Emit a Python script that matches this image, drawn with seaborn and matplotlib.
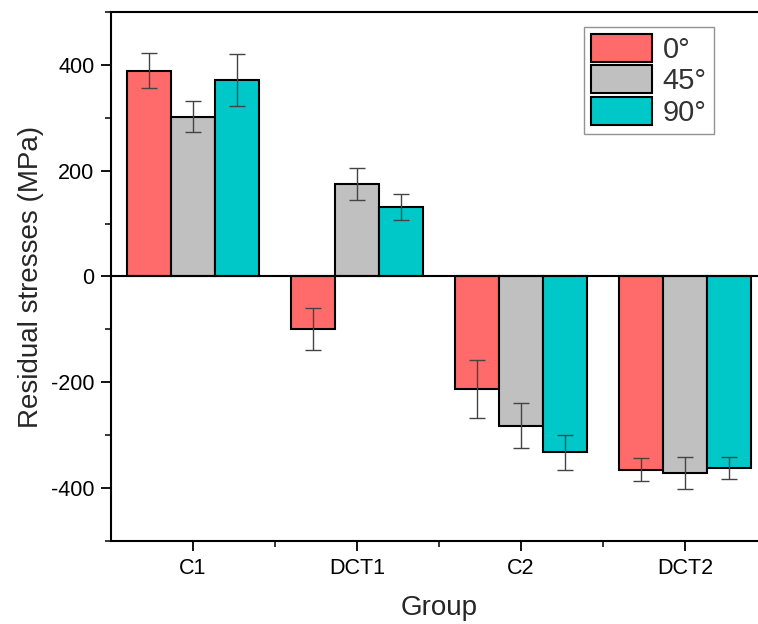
import numpy as np
import pandas as pd
import matplotlib
matplotlib.use("Agg")
import matplotlib.pyplot as plt
import seaborn as sns
from matplotlib.ticker import MultipleLocator

groups = ["C1", "DCT1", "C2", "DCT2"]
angles = ["0°", "45°", "90°"]

# residual stress (MPa) per angle
stress_0 = [389, -99, -212, -365]
stress_45 = [302, 175, -282, -372]
stress_90 = [372, 131, -332, -362]

err_0 = [33, 40, 55, 22]
err_45 = [29, 30, 42, 30]
err_90 = [49, 24, 33, 21]

colors = ["#FF6B6B", "#C0C0C0", "#00C8C8"]

rows = []
for ang, vals, errs in zip(angles, [stress_0, stress_45, stress_90], [err_0, err_45, err_90]):
    for g, v, e in zip(groups, vals, errs):
        rows.append({"Group": g, "Angle": ang, "Stress": v, "Err": e})
df = pd.DataFrame(rows)

sns.set_style("ticks")
plt.rcParams['font.family'] = ['Liberation Sans', 'DejaVu Sans']
plt.rcParams['axes.unicode_minus'] = False

fig = plt.figure(figsize=(7.58, 6.24), dpi=100)
ax = fig.add_axes([0.1464, 0.133, 0.8654, 0.8478])

sns.barplot(data=df, x="Group", y="Stress", hue="Angle", order=groups,
            hue_order=angles, palette=colors, errorbar=None, width=0.8,
            edgecolor="black", linewidth=1.5, saturation=1, ax=ax)

# error bars from the bar positions seaborn laid out
for cont, ang in zip(ax.containers, angles):
    sub = df[df["Angle"] == ang].set_index("Group").loc[groups]
    xs = [p.get_x() + p.get_width() / 2 for p in cont]
    ax.errorbar(xs, sub["Stress"].values, yerr=sub["Err"].values, fmt="none",
                ecolor="#444444", elinewidth=1, capsize=6, capthick=1, zorder=5)

ax.axhline(0, color="black", lw=1.5, zorder=4)

ax.set_ylim(-500, 500)
ax.set_xlim(-0.5, 3.5)
ax.yaxis.set_major_locator(MultipleLocator(200))
ax.yaxis.set_minor_locator(MultipleLocator(100))
ax.set_xticks([0.5, 1.5, 2.5], minor=True)
ax.tick_params(axis="both", which="major", direction="out", length=7, width=1.3,
               labelsize=15.5, colors="black", pad=5)
ax.tick_params(axis="both", which="minor", direction="out", length=4, width=1.3)

for s in ["left", "bottom", "top", "right"]:
    ax.spines[s].set_linewidth(1.5)
    ax.spines[s].set_color("black")

ax.set_xlabel("Group", fontsize=20, labelpad=12)
ax.set_ylabel("Residual stresses (MPa)", fontsize=20, labelpad=5)

leg = ax.legend(loc="upper left", bbox_to_anchor=(0.770, 0.957),
                bbox_transform=fig.transFigure, fontsize=21, frameon=True,
                fancybox=False, edgecolor="#777777", handlelength=2.1,
                handleheight=1.1, labelspacing=0.05, handletextpad=0.35,
                borderpad=0.25, borderaxespad=0)
leg.get_frame().set_linewidth(1)
for t in leg.get_texts():
    t.set_color("#333333")

fig.savefig("out.png", dpi=100, facecolor="white")
